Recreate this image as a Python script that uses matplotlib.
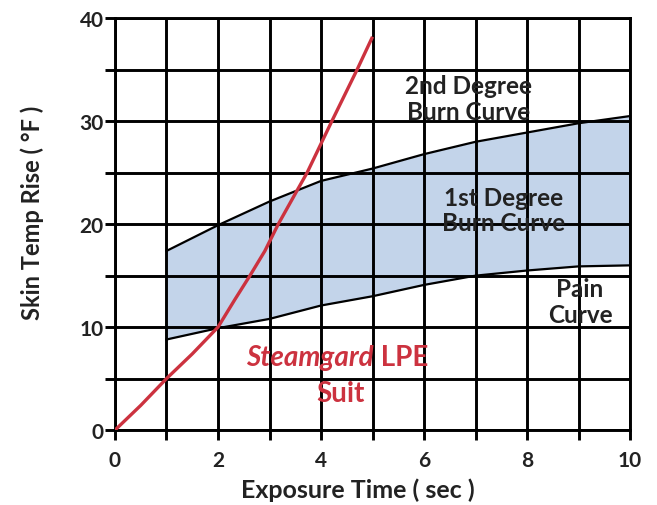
"""Skin temperature rise vs exposure time, Steamgard LPE suit."""
import matplotlib
matplotlib.use("Agg")
import matplotlib.pyplot as plt
from matplotlib.ticker import MultipleLocator

# burn curves, read at whole seconds
burn_x = [1, 2, 3, 4, 5, 6, 7, 8, 9, 10]
second_degree = [17.4, 19.9, 22.2, 24.2, 25.4, 26.8, 28.0, 28.9, 29.8, 30.5]
pain_curve = [8.8, 9.9, 10.8, 12.1, 13.0, 14.1, 15.0, 15.5, 15.9, 16.0]

# suit curve
suit_x = [0, 0.5, 1, 1.5, 2, 2.33, 2.62, 2.91, 3.17, 3.55, 3.73, 4.21, 4.70, 5.0]
suit_y = [0, 2.4, 5.0, 7.4, 10.0, 12.7, 15.0, 17.4, 20.0, 23.4, 25.0, 30.0, 35.0, 38.2]

x_ticks = [0, 2, 4, 6, 8, 10]
y_ticks = [0, 10, 20, 30, 40]

FONT = "Lato"
RED = "#cc323f"
INK = "#222222"
FILL = "#c3d4ea"

plt.rcParams["font.family"] = [FONT, "DejaVu Sans"]
fig = plt.figure(figsize=(6.57, 5.06), dpi=100)
fig.patch.set_facecolor("white")
ax = fig.add_axes([0.175, 0.148, 0.784, 0.814])

ax.fill_between(burn_x, pain_curve, second_degree, color=FILL, lw=0, zorder=1)
ax.set_axisbelow(False)
ax.xaxis.set_major_locator(MultipleLocator(2)); ax.xaxis.set_minor_locator(MultipleLocator(1))
ax.yaxis.set_major_locator(MultipleLocator(10)); ax.yaxis.set_minor_locator(MultipleLocator(5))
ax.grid(which="both", color="black", lw=2.1, zorder=2)
ax.plot(burn_x, second_degree, color="black", lw=1.6, zorder=3)
ax.plot(burn_x, pain_curve, color="black", lw=1.6, zorder=3)
ax.plot(suit_x, suit_y, color=RED, lw=2.4, zorder=4, solid_capstyle="butt", solid_joinstyle="round")

ax.set_xlim(0, 10); ax.set_ylim(0, 40)
ax.set_xticks(x_ticks); ax.set_yticks(y_ticks)
ax.tick_params(which="both", length=7, width=2.1, color="black", direction="out")
ax.tick_params(axis="x", which="major", pad=7, labelsize=15)
ax.tick_params(axis="y", which="major", pad=1, labelsize=15)
for lab in ax.get_xticklabels() + ax.get_yticklabels():
    lab.set_fontweight("bold"); lab.set_color(INK)
for sp in ax.spines.values():
    sp.set_linewidth(2.1)

ax.set_xlabel("Exposure Time ( sec )", fontsize=18, fontweight="bold", color=INK)
ax.xaxis.set_label_coords(0.472, -0.115)
ax.set_ylabel("Skin Temp Rise ( °F )", fontsize=17, fontweight="bold", color=INK)
ax.yaxis.set_label_coords(-0.138, 0.53)

label_kw = dict(ha="center", va="center", fontsize=17.5, fontweight="bold", color=INK,
                linespacing=1.12, zorder=5)
ax.text(6.86, 32.2, "2nd Degree\nBurn Curve", **label_kw)
ax.text(7.55, 21.4, "1st Degree\nBurn Curve", **label_kw)
ax.text(9.03, 12.5, "Pain\nCurve", **label_kw)

# "Steamgard" italic, "LPE" upright, both red
red_kw = dict(va="center", fontsize=20, fontweight="bold", color=RED, zorder=5)
ax.text(5.02, 7.1, "Steamgard", ha="right", fontstyle="italic", **red_kw)
ax.text(5.02, 7.1, " LPE", ha="left", **red_kw)
ax.text(4.37, 3.6, "Suit", ha="center", **red_kw)

fig.savefig("out.png", dpi=100)
